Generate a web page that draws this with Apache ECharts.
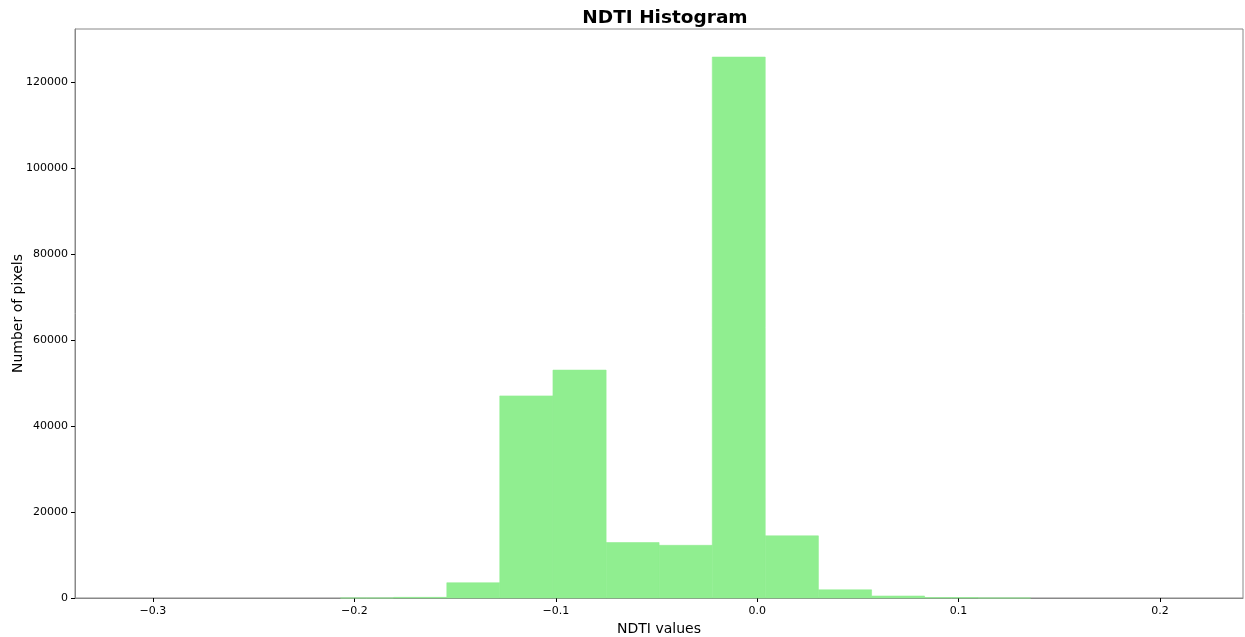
<!DOCTYPE html>
<html>
<head>
<meta charset="utf-8">
<script src="https://cdn.jsdelivr.net/npm/echarts@6/dist/echarts.min.js"></script>
<style>html,body{margin:0;padding:0;background:#fff}#c{width:1245px;height:637px}</style>
</head>
<body>
<div id="c"></div>
<script>
// Histogram bin edges (NDTI values), 20 bins
const binEdges = [-0.3123, -0.2859, -0.2596, -0.2332, -0.2069, -0.1805, -0.1541, -0.1278, -0.1014, -0.0750,
  -0.0487, -0.0223, 0.0040, 0.0304, 0.0568, 0.0831, 0.1095, 0.1358, 0.1622, 0.1886, 0.2149];
// Pixel counts per bin
const counts = [0, 0, 0, 0, 20, 150, 3550, 47000, 53000, 12900, 12250, 125800, 14450, 1900, 460, 90, 15, 0, 0, 0];
const xTickValues = [-0.3, -0.2, -0.1, 0.0, 0.1, 0.2];
const xTickLabels = ['\u22120.3', '\u22120.2', '\u22120.1', '0.0', '0.1', '0.2'];
const yTickValues = [0, 20000, 40000, 60000, 80000, 100000, 120000];
const yTickLabels = ['0', '20000', '40000', '60000', '80000', '100000', '120000'];

const data = counts.map((c, i) => [binEdges[i], binEdges[i + 1], c]);

const chart = echarts.init(document.getElementById('c'));
const font = 'DejaVu Sans';
chart.setOption({
  animation: false,
  backgroundColor: '#fff',
  textStyle: { fontFamily: font },
  title: {
    text: 'NDTI Histogram', left: 660, textAlign: 'center', top: 4,
    textStyle: { fontFamily: font, fontSize: 18.5, fontWeight: 'bold', color: '#000' }
  },
  grid: { left: 75, right: 2, top: 29, bottom: 39, outerBoundsMode: 'none', containLabel: false,
    show: true, borderColor: '#888', borderWidth: 1 },
  xAxis: {
    type: 'value', min: -0.3387, max: 0.2412,
    name: 'NDTI values', nameLocation: 'middle', nameGap: 24, nameMoveOverlap: false,
    nameTextStyle: { fontFamily: font, fontSize: 14, color: '#000' },
    axisLine: { show: true, onZero: false, lineStyle: { color: '#888' } },
    axisTick: { show: true, length: 4, customValues: xTickValues, lineStyle: { color: '#000' } },
    axisLabel: { customValues: xTickValues, fontSize: 11, color: '#000', margin: 8,
      formatter: v => { const i = xTickValues.findIndex(t => Math.abs(t - v) < 1e-9); return i >= 0 ? xTickLabels[i] : ''; } },
    splitLine: { show: false }
  },
  yAxis: {
    type: 'value', min: 0, max: 132330,
    name: 'Number of pixels', nameLocation: 'middle', nameGap: 50, nameRotate: 90, nameMoveOverlap: false,
    nameTextStyle: { fontFamily: font, fontSize: 14, color: '#000' },
    axisLine: { show: true, onZero: false, lineStyle: { color: '#888' } },
    axisTick: { show: true, length: 4, customValues: yTickValues, lineStyle: { color: '#000' } },
    axisLabel: { customValues: yTickValues, fontSize: 11, color: '#000', margin: 7,
      formatter: v => { const i = yTickValues.indexOf(v); return i >= 0 ? yTickLabels[i] : ''; } },
    splitLine: { show: false }
  },
  series: [{
    type: 'custom',
    data: data,
    encode: { x: [0, 1], y: 2 },
    z: 1,
    renderItem: (params, api) => {
      if (!(api.value(2) > 0)) return null;
      const p0 = api.coord([api.value(0), api.value(2)]);
      const p1 = api.coord([api.value(1), 0]);
      return {
        type: 'rect',
        shape: { x: p0[0], y: p0[1], width: p1[0] - p0[0], height: p1[1] - p0[1] },
        style: { fill: '#90EE90', stroke: '#90EE90', lineWidth: 0.6 }
      };
    }
  }]
});
</script>
</body>
</html>
